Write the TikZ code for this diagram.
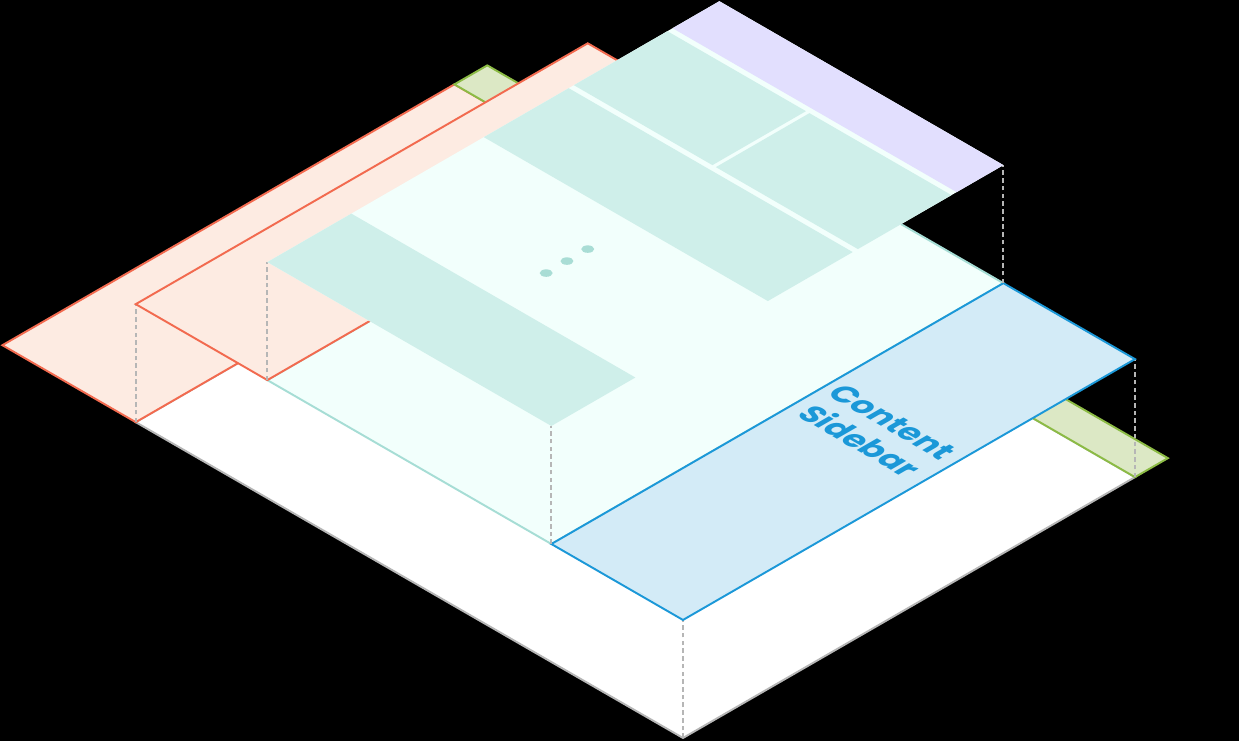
\documentclass[tikz,border=0pt]{standalone}
\usepackage{fontspec}
\newfontfamily\labelfont{Poppins}

\begin{document}
\begin{tikzpicture}[
    x={(0.01732cm,0.01cm)}, y={(-0.01732cm,0.01cm)}, z={(0cm,0.02cm)},
    plate/.style={line width=1.1pt, line join=miter},
    floorplate/.style={plate, fill=white, draw=edgegray},
    headerplate/.style={plate, fill=headerfill, draw=headerline},
    footerplate/.style={plate, fill=footerfill, draw=footerline},
    contentplate/.style={plate, fill=contentfill, draw=contentline},
    sidebarplate/.style={plate, fill=sidebarfill, draw=sidebarline},
    blockplate/.style={fill=blockfill},
    navplate/.style={fill=navfill},
    dropline/.style={draw=edgegray, line width=1.1pt, dash pattern=on 2.6pt off 1.8pt},
    dotmark/.style={fill=dotfill},
    sidebar label/.style={font=\labelfont\bfseries\fontsize{18}{21.6}\selectfont, text=sidebarline, align=center, inner sep=0pt}
]

% Define colors
\definecolor{edgegray}{RGB}{182,182,182}
\definecolor{headerfill}{RGB}{253,235,226}
\definecolor{headerline}{RGB}{242,106,79}
\definecolor{footerfill}{RGB}{220,232,197}
\definecolor{footerline}{RGB}{140,187,69}
\definecolor{contentfill}{RGB}{242,255,252}
\definecolor{contentline}{RGB}{166,221,213}
\definecolor{sidebarfill}{RGB}{211,235,247}
\definecolor{sidebarline}{RGB}{27,152,216}
\definecolor{blockfill}{RGB}{207,239,234}
\definecolor{navfill}{RGB}{226,223,254}
\definecolor{dotfill}{RGB}{169,221,213}

\def\levelone{118}
\def\leveltwo{236}

% --- Background ---
\fill[black] (-13.66cm,-0.06cm) rectangle (11.12cm,14.76cm);
\useasboundingbox (-13.66cm,-0.06cm) rectangle (11.12cm,14.76cm);

% --- Floor level ---
\draw[floorplate] (0,0,0) -- (0,632,0) -- (522,632,0) -- (522,0,0) -- cycle;
\draw[headerplate] (0,632,0) -- (0,786,0) -- (522,786,0) -- (522,632,0) -- cycle;
\draw[footerplate] (522,0,0) -- (522,786,0) -- (560,786,0) -- (560,0,0) -- cycle;

% corners used by the drop lines
\coordinate (floor-front) at (0,0,0);
\coordinate (floor-left) at (0,632,0);
\coordinate (floor-right) at (522,0,0);
\coordinate (side-front) at (0,0,\levelone);
\coordinate (head-left) at (0,632,\levelone);
\coordinate (side-right) at (522,0,\levelone);
\coordinate (cont-left) at (0,480,\levelone);
\coordinate (cont-front) at (0,152,\levelone);
\coordinate (cont-right) at (522,152,\levelone);
\coordinate (top-left) at (0,480,\leveltwo);
\coordinate (top-front) at (0,152,\leveltwo);
\coordinate (top-right) at (522,152,\leveltwo);

\draw[dropline] (floor-left) -- (head-left);
\draw[dropline] (floor-front) -- (side-front);
\draw[dropline] (floor-right) -- (side-right);

% --- Middle level ---
\draw[contentplate] (0,152,\levelone) -- (0,480,\levelone) -- (522,480,\levelone) -- (522,152,\levelone) -- cycle;
\draw[headerplate] (0,480,\levelone) -- (0,632,\levelone) -- (522,632,\levelone) -- (522,480,\levelone) -- cycle;
\draw[sidebarplate] (0,0,\levelone) -- (0,152,\levelone) -- (522,152,\levelone) -- (522,0,\levelone) -- cycle;

\node[sidebar label, transform shape, cm={0.866,-0.5,0.866,0.5,(0,0)}] (sidebarlabel) at (300,77,\levelone) {Content\\Sidebar};

\draw[dropline] (cont-left) -- (top-left);
\draw[dropline] (cont-front) -- (top-front);
\draw[dropline] (cont-right) -- (top-right);

% --- Top level ---
\fill[contentfill] (0,152,\leveltwo) -- (0,480,\leveltwo) -- (522,480,\leveltwo) -- (522,152,\leveltwo) -- cycle;
% blocks: u from/to, v from/to
\foreach \ua/\ub/\va/\vb in {152/480/0/97, 152/480/250/348, 320/480/354/462, 152/316/354/462} {
    \fill[blockplate] (\va,\ua,\leveltwo) -- (\va,\ub,\leveltwo) -- (\vb,\ub,\leveltwo) -- (\vb,\ua,\leveltwo) -- cycle;
}
\fill[navplate] (468,152,\leveltwo) -- (468,480,\leveltwo) -- (522,480,\leveltwo) -- (522,152,\leveltwo) -- cycle;

% three dots
\foreach \v in {150,174,198} {
    \fill[dotmark] (\v,308,\leveltwo) ellipse [x radius=0.13cm, y radius=0.075cm];
}

\end{tikzpicture}
\end{document}
